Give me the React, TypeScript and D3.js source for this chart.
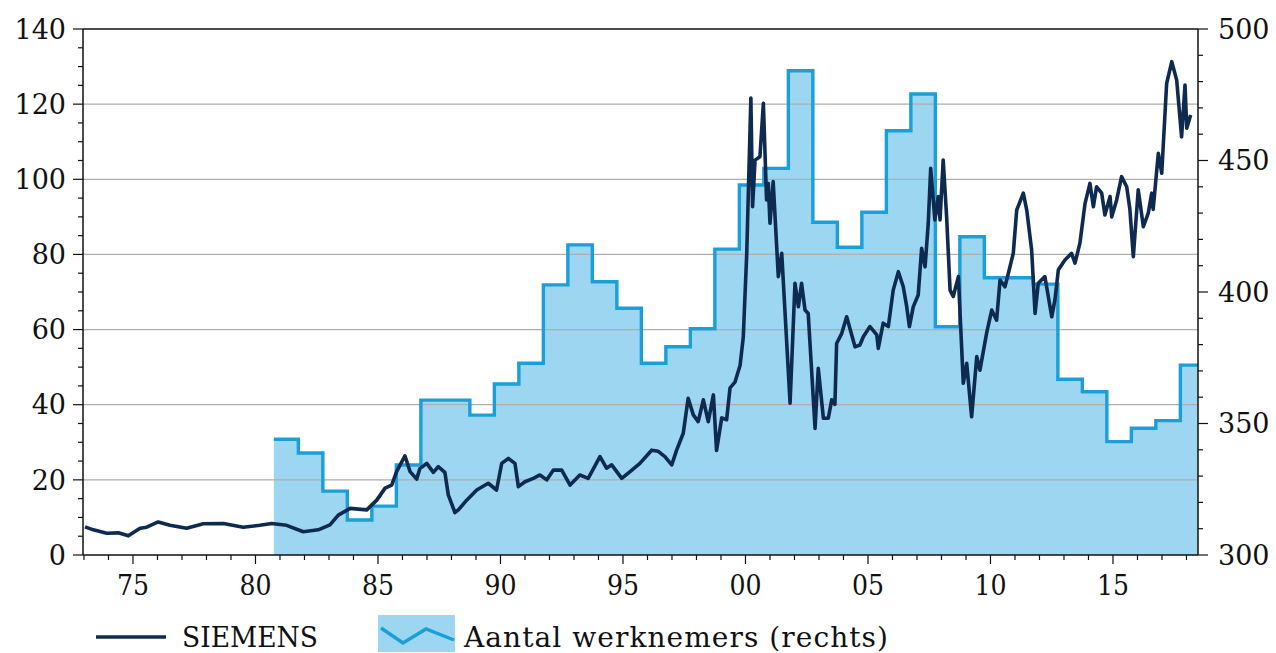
import React from "react";
import * as d3 from "d3";

// Employees (thousands, right axis) per fiscal year; step drawn from FY+0.75 to FY+1.75
const fiscalYears = [
  1980, 1981, 1982, 1983, 1984, 1985, 1986, 1987, 1988, 1989, 1990, 1991, 1992,
  1993, 1994, 1995, 1996, 1997, 1998, 1999, 2000, 2001, 2002, 2003, 2004, 2005,
  2006, 2007, 2008, 2009, 2010, 2011, 2012, 2013, 2014, 2015, 2016, 2017,
];
const employees = [
  344, 338.8, 324.3, 313.3, 318.6, 334.2, 358.9, 358.9, 353.2, 365, 372.9, 402.7,
  417.9, 403.9, 393.8, 372.9, 379.2, 386, 416.3, 440.7, 447, 484.1, 426.5, 417,
  430.3, 461.3, 475.3, 386.8, 421, 405.4, 405.4, 403, 366.8, 362.1, 343.1, 348.2,
  351.1, 372.2,
];

// SIEMENS share price (left axis)
const priceYears = [
  1973.04, 1973.38, 1973.93, 1974.4, 1974.81, 1975.29, 1975.56, 1976.03, 1976.51,
  1977.19, 1977.87, 1978.69, 1979.5, 1980.18, 1980.66, 1981.27, 1981.95, 1982.56,
  1983.04, 1983.38, 1983.86, 1984.54, 1984.95, 1985.29, 1985.56, 1985.76, 1986.1,
  1986.31, 1986.58, 1986.71, 1986.99, 1987.26, 1987.46, 1987.73, 1987.87, 1988.14,
  1988.28, 1988.62, 1989.03, 1989.5, 1989.84, 1990.05, 1990.32, 1990.59, 1990.73,
  1991.0, 1991.34, 1991.61, 1991.89, 1992.16, 1992.5, 1992.84, 1993.24, 1993.58,
  1994.06, 1994.33, 1994.54, 1994.95, 1995.29, 1995.69, 1996.17, 1996.44, 1996.71,
  1996.99, 1997.19, 1997.46, 1997.66, 1997.87, 1998.07, 1998.28, 1998.48, 1998.69,
  1998.82, 1999.03, 1999.23, 1999.37, 1999.57, 1999.78, 1999.91, 2000.05, 2000.22,
  2000.29, 2000.39, 2000.59, 2000.73, 2000.86, 2000.93, 2001.0, 2001.13, 2001.34,
  2001.48, 2001.82, 2002.02, 2002.16, 2002.29, 2002.43, 2002.56, 2002.84, 2002.97,
  2003.18, 2003.38, 2003.52, 2003.65, 2003.72, 2003.93, 2004.13, 2004.47, 2004.67,
  2004.81, 2005.08, 2005.36, 2005.42, 2005.62, 2005.83, 2006.03, 2006.24, 2006.44,
  2006.58, 2006.69, 2006.85, 2007.05, 2007.19, 2007.33, 2007.46, 2007.56, 2007.73,
  2007.87, 2007.94, 2008.07, 2008.21, 2008.35, 2008.48, 2008.69, 2008.89, 2009.03,
  2009.23, 2009.44, 2009.57, 2009.84, 2010.05, 2010.25, 2010.39, 2010.59, 2010.73,
  2010.93, 2011.07, 2011.34, 2011.48, 2011.68, 2011.82, 2011.95, 2012.22, 2012.36,
  2012.5, 2012.63, 2012.77, 2013.04, 2013.31, 2013.45, 2013.65, 2013.86, 2014.06,
  2014.2, 2014.33, 2014.54, 2014.67, 2014.88, 2014.95, 2015.15, 2015.35, 2015.56,
  2015.69, 2015.83, 2016.03, 2016.24, 2016.44, 2016.58, 2016.64, 2016.85, 2016.99,
  2017.19, 2017.4, 2017.6, 2017.8, 2017.94, 2018.01, 2018.17,
];
const priceValues = [
  7.5, 6.7, 5.8, 5.9, 5.1, 7.1, 7.4, 8.8, 7.9, 7.1, 8.3, 8.4, 7.4, 7.9, 8.4, 7.9,
  6.2, 6.7, 8.0, 10.6, 12.4, 12.0, 14.6, 17.8, 18.6, 22.2, 26.4, 22.2, 20.2, 23.0,
  24.4, 22.0, 23.5, 22.0, 16.0, 11.3, 12.0, 14.6, 17.3, 19.1, 17.3, 24.4, 25.7,
  24.4, 18.2, 19.5, 20.4, 21.3, 20.0, 22.6, 22.6, 18.6, 21.3, 20.4, 26.2, 23.1,
  24.0, 20.4, 22.2, 24.4, 27.9, 27.6, 26.2, 24.0, 27.9, 32.4, 41.7, 37.3, 35.5,
  41.3, 35.5, 42.6, 27.8, 36.5, 36.0, 44.5, 46.0, 50.5, 58.0, 80.0, 121.6, 92.7,
  105.1, 106, 120.2, 94.5, 98.9, 88.3, 99.4, 74.1, 80.3, 40.4, 72.3, 66.1, 72.3,
  65.2, 64.3, 33.7, 49.7, 36.4, 36.4, 41.3, 40.1, 56.3, 59.0, 63.4, 55.4, 55.9,
  58.1, 60.8, 58.6, 55.0, 61.7, 60.8, 70.5, 75.4, 71.4, 66.1, 60.8, 66.1, 69.2,
  81.6, 76.7, 88.3, 102.9, 89.2, 95.4, 89.2, 105.1, 90.0, 70.5, 68.8, 74.1, 45.7,
  51.0, 36.8, 52.8, 49.2, 59.0, 65.2, 62.5, 73.2, 71.4, 75.0, 80.3, 91.8, 96.3,
  91.8, 81.2, 64.3, 72.3, 74.1, 68.8, 63.4, 67.9, 75.9, 78.5, 80.3, 77.7, 83.0,
  93.6, 98.9, 92.7, 98.0, 96.3, 90.5, 95.4, 90.0, 94.5, 100.7, 98.0, 92.0, 79.4,
  97.2, 87.4, 91.0, 96.3, 92.0, 106.9, 101.6, 125.5, 131.3, 126.4, 111.3, 125.1,
  113.6, 117.1,
];

const leftTicks = [0, 20, 40, 60, 80, 100, 120, 140];
const rightTicks = [300, 350, 400, 450, 500];
const xMajorYears = [1975, 1980, 1985, 1990, 1995, 2000, 2005, 2010, 2015];
const xLabels = ["75", "80", "85", "90", "95", "00", "05", "10", "15"];
const legendPrice = "SIEMENS";
const legendEmployees = "Aantal werknemers (rechts)";

const W = 1276;
const H = 653;
const L = 83;
const R = 1198;
const T = 29;
const B = 555;
const xDomain: [number, number] = [1972.96, 2018.47];

const FONT_C = "'DejaVu Serif Condensed', 'DejaVu Serif', serif";
const FONT = "'DejaVu Serif', serif";
const NAVY = "#0e2a50";
const STEP = "#1b9fd8";
const FILL = "#9dd6f0";
const GRID = "#aeaeae";

export default function App() {
  const x = d3.scaleLinear().domain(xDomain).range([L, R]);
  const yL = d3.scaleLinear().domain([0, 140]).range([B, T]);
  const yR = d3.scaleLinear().domain([300, 500]).range([B, T]);

  const stepPts: [number, number][] = fiscalYears.map((f, i) => [f + 0.75, employees[i]]);
  stepPts.push([xDomain[1], employees[employees.length - 1]]);

  const area = d3
    .area<[number, number]>()
    .curve(d3.curveStepAfter)
    .x((d) => x(d[0]))
    .y0(B)
    .y1((d) => yR(d[1]));
  const stepLine = d3
    .line<[number, number]>()
    .curve(d3.curveStepAfter)
    .x((d) => x(d[0]))
    .y((d) => yR(d[1]));

  const pricePts: [number, number][] = priceYears.map((yr, i) => [yr, priceValues[i]]);
  const priceLine = d3
    .line<[number, number]>()
    .x((d) => x(d[0]))
    .y((d) => yL(d[1]));

  const leftMinor = d3.range(0, 141, 5);
  const rightMinor = d3.range(300, 501, 10);
  const xMinor = d3.range(1973, 2019, 1);

  return (
    <svg
      width={W}
      height={H}
      style={{ position: "absolute", left: 0, top: 0, background: "#fff" }}
      fontFamily={FONT}
    >
      <defs>
        <clipPath id="plot">
          <rect x={L} y={T - 3} width={R - L} height={B - T + 3} />
        </clipPath>
      </defs>
      <g clipPath="url(#plot)">
        <path d={area(stepPts) || ""} fill={FILL} />
        {leftTicks
          .filter((v) => v > 0 && v < 140)
          .map((v) => (
            <line key={v} x1={L} x2={R} y1={yL(v)} y2={yL(v)} stroke={GRID} strokeWidth={1.2} />
          ))}
        <path d={stepLine(stepPts) || ""} fill="none" stroke={STEP} strokeWidth={3.4} />
        <path
          d={priceLine(pricePts) || ""}
          fill="none"
          stroke={NAVY}
          strokeWidth={3.6}
          strokeLinejoin="round"
        />
      </g>

      {/* frame */}
      <line x1={L} x2={R} y1={T} y2={T} stroke="#111" strokeWidth={1.5} />
      <line x1={L} x2={R} y1={B} y2={B} stroke="#111" strokeWidth={1.5} />
      <line x1={L} x2={L} y1={T} y2={B} stroke="#111" strokeWidth={1.5} />
      <line x1={R} x2={R} y1={T} y2={B} stroke="#111" strokeWidth={1.5} />

      {/* left axis */}
      {leftMinor.map((v) => (
        <line
          key={"lm" + v}
          x1={L}
          x2={v % 20 === 0 ? L - 10 : L - 5}
          y1={yL(v)}
          y2={yL(v)}
          stroke="#111"
          strokeWidth={1.2}
        />
      ))}
      {leftTicks.map((v) => (
        <text
          key={"lt" + v}
          x={66}
          y={yL(v)}
          dy="0.36em"
          textAnchor="end"
          fontSize={27}
          fill="#111"
        >
          {v}
        </text>
      ))}

      {/* right axis */}
      {rightMinor.map((v) => (
        <line
          key={"rm" + v}
          x1={R}
          x2={v % 50 === 0 ? R + 10 : R + 5}
          y1={yR(v)}
          y2={yR(v)}
          stroke="#111"
          strokeWidth={1.2}
        />
      ))}
      {rightTicks.map((v) => (
        <text key={"rt" + v} x={1218} y={yR(v)} dy="0.36em" fontSize={27} fill="#111">
          {v}
        </text>
      ))}

      {/* x axis */}
      {xMinor.map((yr) => (
        <line
          key={"xm" + yr}
          x1={x(yr)}
          x2={x(yr)}
          y1={B}
          y2={yr % 5 === 0 ? B + 9 : B + 5}
          stroke="#111"
          strokeWidth={1.2}
        />
      ))}
      {xMajorYears.map((yr, i) => (
        <text
          key={"xl" + yr}
          x={x(yr)}
          y={595}
          textAnchor="middle"
          fontSize={28}
          fontFamily={FONT_C}
          fill="#111"
        >
          {xLabels[i]}
        </text>
      ))}

      {/* legend */}
      <line x1={96} x2={166} y1={637} y2={637} stroke={NAVY} strokeWidth={3.6} />
      <text
        x={182}
        y={647}
        fontSize={27}
        textLength={136}
        lengthAdjust="spacingAndGlyphs"
        fill="#111"
      >
        {legendPrice}
      </text>
      <rect x={378} y={615} width={77} height={37} fill={FILL} />
      <polyline
        points="381,628 403,643 426,629 454,640"
        fill="none"
        stroke={STEP}
        strokeWidth={3.4}
      />
      <text
        x={464}
        y={647}
        fontSize={28}
        textLength={424}
        lengthAdjust="spacing"
        fill="#111"
      >
        {legendEmployees}
      </text>
    </svg>
  );
}
